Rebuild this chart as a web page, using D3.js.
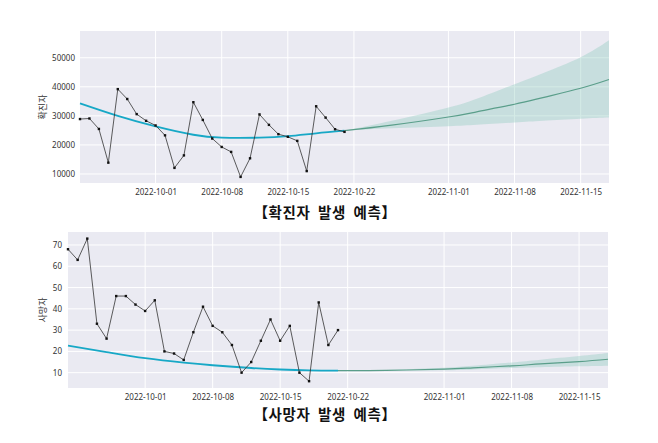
<!doctype html>
<html lang="ko">
<head>
<meta charset="utf-8">
<script src="https://d3js.org/d3.v7.min.js"></script>
<style>
  body { margin: 0; background: #fff; }
  svg text { font-family: "Noto Sans", "Noto Sans CJK KR", sans-serif; }
  .ttl { font-family: "Noto Sans CJK KR", sans-serif; font-weight: bold; }
</style>
</head>
<body>
<svg id="chart" width="658" height="443"></svg>
<script>
// observed daily values
const obsDates = ["2022-09-23","2022-09-24","2022-09-25","2022-09-26","2022-09-27","2022-09-28","2022-09-29",
  "2022-09-30","2022-10-01","2022-10-02","2022-10-03","2022-10-04","2022-10-05","2022-10-06","2022-10-07",
  "2022-10-08","2022-10-09","2022-10-10","2022-10-11","2022-10-12","2022-10-13","2022-10-14","2022-10-15",
  "2022-10-16","2022-10-17","2022-10-18","2022-10-19","2022-10-20","2022-10-21"];
const cases = [28900, 29100, 25500, 13900, 39200, 35800, 30600, 28300, 26700, 23300, 12100, 16400, 34700, 28600,
  22200, 19300, 17600, 9000, 15400, 30500, 26900, 23700, 22800, 21400, 11000, 33300, 29400, 25400, 24500];
const deaths = [68, 63, 73, 33, 26, 46, 46, 42, 39, 44, 20, 19, 16, 29, 41, 32, 29, 23, 10, 15, 25, 35, 25, 32,
  10, 6, 43, 23, 30];

// fitted trend (history) and forecast
const fitDates = ["2022-09-23","2022-09-27","2022-10-01","2022-10-05","2022-10-08","2022-10-12","2022-10-15","2022-10-18","2022-10-21"];
const casesFit = [34300, 30000, 26400, 23500, 22500, 22500, 23000, 24000, 24900];
const deathsFit = [22.7, 19.7, 16.8, 14.7, 13.5, 12.2, 11.5, 11.1, 11.0];

const fcDates = ["2022-10-21","2022-10-26","2022-11-01","2022-11-04","2022-11-08","2022-11-11","2022-11-15","2022-11-18"];
const casesFc = [24900, 26800, 29600, 31400, 34000, 36300, 39500, 42500];
const casesHi = [24900, 28300, 32900, 35900, 40900, 44700, 50200, 56000];
const casesLo = [24900, 25700, 26400, 26900, 27700, 28300, 29000, 29400];
const deathsFc = [11.0, 11.1, 11.7, 12.3, 13.2, 14.1, 15.2, 16.3];
const deathsHi = [11.0, 11.3, 12.3, 13.2, 14.8, 16.1, 17.8, 19.2];
const deathsLo = [11.0, 10.9, 11.1, 11.5, 12.2, 12.6, 13.0, 13.3];

const xTicks = ["2022-10-01","2022-10-08","2022-10-15","2022-10-22","2022-11-01","2022-11-08","2022-11-15"];
const casesTicks = [10000, 20000, 30000, 40000, 50000];
const deathsTicks = [10, 20, 30, 40, 50, 60, 70];

const parse = d3.timeParse("%Y-%m-%d");
const svg = d3.select("#chart");

function panel(opt) {
  const x = d3.scaleTime().domain([parse("2022-09-23"), parse("2022-11-18")]).range([opt.left, opt.right]);
  const y = d3.scaleLinear().domain(opt.yDomain).range([opt.bottom, opt.top]);
  const g = svg.append("g");

  g.append("rect")
    .attr("x", opt.left).attr("y", opt.top)
    .attr("width", opt.right - opt.left).attr("height", opt.bottom - opt.top)
    .attr("fill", "#eaeaf2");

  // grid
  g.append("g").selectAll("line").data(opt.yTicks).join("line")
    .attr("x1", opt.left).attr("x2", opt.right)
    .attr("y1", d => y(d)).attr("y2", d => y(d))
    .attr("stroke", "#fff").attr("stroke-width", 1);
  g.append("g").selectAll("line").data(xTicks).join("line")
    .attr("x1", d => x(parse(d))).attr("x2", d => x(parse(d)))
    .attr("y1", opt.top).attr("y2", opt.bottom)
    .attr("stroke", "#fff").attr("stroke-width", 1);

  // axes (labels only)
  const xAxis = g.append("g")
    .attr("transform", `translate(0,${opt.bottom})`)
    .call(d3.axisBottom(x).tickValues(xTicks.map(parse)).tickFormat(d3.timeFormat("%Y-%m-%d")).tickSize(0).tickPadding(6));
  const yAxis = g.append("g")
    .attr("transform", `translate(${opt.left},0)`)
    .call(d3.axisLeft(y).tickValues(opt.yTicks).tickFormat(d3.format("d")).tickSize(0).tickPadding(opt.yPad));
  [xAxis, yAxis].forEach(a => {
    a.select(".domain").remove();
    a.selectAll("text").attr("fill", "#333").attr("font-size", 8);
  });

  g.append("text")
    .attr("transform", `translate(${opt.yLabelX},${(opt.top + opt.bottom) / 2}) rotate(-90)`)
    .attr("text-anchor", "middle")
    .attr("font-family", "'Noto Sans CJK KR'")
    .attr("font-size", 9).attr("fill", "#333")
    .text(opt.yLabel);

  // forecast band
  const band = fcDates.map((d, i) => ({ d: parse(d), lo: opt.lo[i], hi: opt.hi[i] }));
  g.append("path").datum(band)
    .attr("fill", "#8fcbbd").attr("fill-opacity", 0.38)
    .attr("d", d3.area().curve(d3.curveNatural).x(d => x(d.d)).y0(d => y(d.lo)).y1(d => y(d.hi)));

  const line = d3.line().curve(d3.curveNatural).x(d => x(d[0])).y(d => y(d[1]));

  g.append("path").datum(fitDates.map((d, i) => [parse(d), opt.fit[i]]))
    .attr("fill", "none").attr("stroke", "#17a8c6").attr("stroke-width", 1.8)
    .attr("d", line);
  g.append("path").datum(fcDates.map((d, i) => [parse(d), opt.fc[i]]))
    .attr("fill", "none").attr("stroke", "#5a9e8a").attr("stroke-width", 1.2)
    .attr("d", line);

  // observed
  const obs = obsDates.map((d, i) => [parse(d), opt.obs[i]]);
  g.append("path").datum(obs)
    .attr("fill", "none").attr("stroke", "#333").attr("stroke-width", 0.8)
    .attr("d", d3.line().x(d => x(d[0])).y(d => y(d[1])));
  g.append("g").selectAll("rect").data(obs).join("rect")
    .attr("x", d => x(d[0]) - 1.2).attr("y", d => y(d[1]) - 1.2)
    .attr("width", 2.4).attr("height", 2.4).attr("fill", "#111");

  svg.append("text").attr("class", "ttl")
    .attr("x", 325).attr("y", opt.titleY)
    .attr("text-anchor", "middle").attr("font-size", 14.5).attr("fill", "#111")
    .attr("letter-spacing", 0.6).attr("word-spacing", 3)
    .text(opt.title);
}

panel({
  left: 80, right: 609, top: 31, bottom: 183, yDomain: [6900, 59200], yTicks: casesTicks, yPad: 5,
  yLabel: "확진자", yLabelX: 46, obs: cases, fit: casesFit, fc: casesFc, hi: casesHi, lo: casesLo,
  title: "【확진자 발생 예측】", titleY: 218
});
panel({
  left: 68, right: 608, top: 232, bottom: 388, yDomain: [2.8, 76.1], yTicks: deathsTicks, yPad: 6,
  yLabel: "사망자", yLabelX: 46, obs: deaths, fit: deathsFit, fc: deathsFc, hi: deathsHi, lo: deathsLo,
  title: "【사망자 발생 예측】", titleY: 420
});
</script>
</body>
</html>
